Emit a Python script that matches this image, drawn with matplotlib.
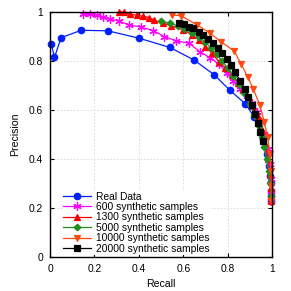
#!/usr/bin/python

import matplotlib
matplotlib.use('Agg')
import matplotlib.pyplot as plt

# precision / recall curves
real_recall = [0.005, 0.02, 0.05, 0.14, 0.26, 0.40, 0.54, 0.65, 0.74, 0.81, 0.88, 0.92,
               0.96, 0.975, 0.985, 0.99, 0.995, 0.995, 0.995, 0.995]
real_prec = [0.87, 0.815, 0.895, 0.925, 0.923, 0.893, 0.855, 0.803, 0.743, 0.68, 0.625, 0.57,
             0.48, 0.42, 0.37, 0.33, 0.30, 0.27, 0.25, 0.23]

s600_recall = [0.15, 0.18, 0.21, 0.24, 0.27, 0.31, 0.355, 0.41, 0.465, 0.515, 0.565, 0.625,
               0.675, 0.72, 0.76, 0.795, 0.825, 0.855, 0.885, 0.91, 0.93, 0.95, 0.965, 0.98,
               0.99, 0.995, 0.997, 0.997]
s600_prec = [0.99, 0.99, 0.987, 0.978, 0.97, 0.963, 0.947, 0.938, 0.924, 0.899, 0.883, 0.872,
             0.838, 0.813, 0.788, 0.752, 0.718, 0.684, 0.657, 0.627, 0.593, 0.55, 0.50, 0.44,
             0.38, 0.32, 0.27, 0.23]

s1300_recall = [0.31, 0.335, 0.36, 0.39, 0.42, 0.445, 0.47, 0.51, 0.545, 0.60, 0.64, 0.67,
                0.70, 0.73, 0.76, 0.79, 0.82, 0.845, 0.87, 0.895, 0.915, 0.935, 0.955, 0.97,
                0.98, 0.99, 0.995, 0.997]
s1300_prec = [1.0, 1.0, 0.99, 0.987, 0.982, 0.977, 0.966, 0.954, 0.943, 0.927, 0.906, 0.886,
              0.858, 0.831, 0.797, 0.77, 0.743, 0.711, 0.684, 0.654, 0.615, 0.575, 0.52, 0.46,
              0.40, 0.34, 0.28, 0.23]

s5000_recall = [0.50, 0.54, 0.575, 0.61, 0.64, 0.67, 0.70, 0.725, 0.75, 0.775, 0.80, 0.825,
                0.85, 0.875, 0.90, 0.92, 0.94, 0.955, 0.965, 0.975, 0.985, 0.99, 0.995]
s5000_prec = [0.963, 0.954, 0.943, 0.93, 0.915, 0.898, 0.876, 0.852, 0.828, 0.80, 0.77, 0.74,
              0.705, 0.67, 0.625, 0.58, 0.535, 0.49, 0.45, 0.40, 0.35, 0.30, 0.25]

s10000_recall = [0.55, 0.59, 0.66, 0.72, 0.77, 0.83, 0.86, 0.89, 0.915, 0.945, 0.965, 0.98,
                 0.99, 0.995, 0.997, 0.997]
s10000_prec = [0.987, 0.985, 0.948, 0.914, 0.878, 0.84, 0.788, 0.736, 0.686, 0.62, 0.55, 0.49,
               0.42, 0.35, 0.29, 0.23]

s20000_recall = [0.58, 0.605, 0.628, 0.646, 0.673, 0.69, 0.713, 0.733, 0.755, 0.776, 0.796,
                 0.814, 0.833, 0.856, 0.878, 0.893, 0.91, 0.925, 0.938, 0.946, 0.96]
s20000_prec = [0.956, 0.95, 0.94, 0.934, 0.917, 0.906, 0.89, 0.872, 0.852, 0.831, 0.807,
               0.784, 0.756, 0.718, 0.684, 0.654, 0.62, 0.585, 0.545, 0.511, 0.475]

labels = ['Real Data', '600 synthetic samples', '1300 synthetic samples',
          '5000 synthetic samples', '10000 synthetic samples', '20000 synthetic samples']
ticks = [0, 0.2, 0.4, 0.6, 0.8, 1]
tick_labels = ['0', '0.2', '0.4', '0.6', '0.8', '1']


def main():
    plt.rcParams['font.family'] = ['Liberation Sans', 'DejaVu Sans']

    fig = plt.figure(figsize=(2.91, 2.91), dpi=100)
    ax = fig.add_axes([0.172, 0.117, 0.763, 0.842])

    series = [
        (real_recall, real_prec, '#0020ff', 'o', 4.6),
        (s600_recall, s600_prec, '#ff00ff', (6, 2, 0), 6.0),
        (s1300_recall, s1300_prec, '#ff0000', '^', 4.6),
        (s5000_recall, s5000_prec, '#1f8f1f', 'D', 3.4),
        (s10000_recall, s10000_prec, '#ff4a10', 'v', 4.6),
        (s20000_recall, s20000_prec, '#000000', 's', 5.0),
    ]
    for (x, y, col, mk, ms), lab in zip(series, labels):
        ax.plot(x, y, color=col, marker=mk, markersize=ms, linewidth=0.9,
                markeredgewidth=0.9, label=lab, clip_on=False)

    ax.set_xlim(0, 1)
    ax.set_ylim(0, 1)
    ax.set_xticks(ticks)
    ax.set_xticklabels(tick_labels)
    ax.set_yticks(ticks)
    ax.set_yticklabels(tick_labels)
    ax.tick_params(direction='in', length=3, width=0.8, labelsize=7.4,
                   top=True, right=True, pad=5)
    ax.grid(True, linestyle=(0, (2, 2)), color='#d8d8d8', linewidth=0.6)
    for sp in ax.spines.values():
        sp.set_linewidth(1.0)

    ax.set_xlabel('Recall', fontsize=7.6, labelpad=4)
    ax.set_ylabel('Precision', fontsize=7.6, labelpad=6)

    leg = ax.legend(loc='lower left', bbox_to_anchor=(0.03, -0.014), fontsize=7.4,
                    frameon=True, facecolor='white', edgecolor='none', framealpha=1,
                    labelspacing=0.04, handlelength=2.7, handletextpad=0.5,
                    borderpad=0.15, fancybox=False)
    leg.set_zorder(5)

    plt.savefig('out.png', dpi=100)


if __name__ == "__main__":
    main()
